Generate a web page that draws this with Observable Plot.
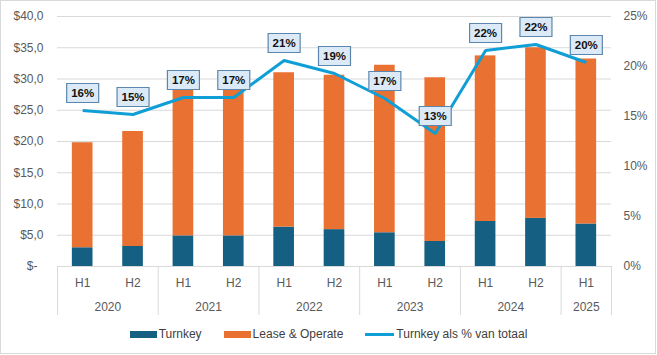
<!DOCTYPE html>
<html><head><meta charset="utf-8">
<script src="https://cdn.jsdelivr.net/npm/d3@7"></script>
<script src="https://cdn.jsdelivr.net/npm/@observablehq/plot@0.6"></script>
<style>
body{margin:0;background:#fff;font-family:"Liberation Sans",Arial,sans-serif;}
#chart{position:absolute;left:0;top:0;}
#legend{position:absolute;left:0;top:320px;width:657px;height:28px;display:flex;justify-content:center;align-items:center;gap:22px;font-size:12px;color:#404040;}
.item{display:flex;align-items:center;gap:2px;white-space:nowrap}
.sw{width:27px;height:7px}
.ln{width:29px;height:3px}
#frame{position:absolute;left:0;top:0;width:656px;height:354px;box-sizing:border-box;border:1px solid #d9d9d9;pointer-events:none;}
</style></head>
<body>
<div id="chart"></div><div id="legend"></div><div id="frame"></div>
<script>
// ---- data ----
const halves  = ["H1","H2","H1","H2","H1","H2","H1","H2","H1","H2","H1"];
const years   = ["2020","2020","2021","2021","2022","2022","2023","2023","2024","2024","2025"];
const turnkey = [3.0, 3.2, 4.9, 4.9, 6.3, 5.9, 5.4, 4.0, 7.2, 7.7, 6.8];
const lease   = [16.8, 18.4, 23.7, 23.7, 24.7, 24.7, 26.8, 26.2, 26.5, 27.3, 26.4];
const pct     = [15.6, 15.2, 16.9, 16.9, 20.6, 19.3, 16.8, 13.3, 21.6, 22.2, 20.4];
const leftTicks  = [0, 5, 10, 15, 20, 25, 30, 35, 40];
const rightTicks = [0, 5, 10, 15, 20, 25];
const seriesNames = ["Turnkey", "Lease & Operate", "Turnkey als % van totaal"];
const colors = ["#156082", "#E97132", "#0F9ED5"];

// ---- derived tables ----
const n = halves.length;
const k = 40 / 25; // right-axis (%) to left-axis ($) factor
const rows = halves.map((h, i) => ({i, half: h, year: years[i], turnkey: turnkey[i], lease: lease[i], pct: pct[i]}));
const stacked = rows.flatMap(r => [
  {i: r.i, series: seriesNames[0], y1: 0, y2: r.turnkey},
  {i: r.i, series: seriesNames[1], y1: r.turnkey, y2: r.turnkey + r.lease}
]);
const groups = [];
years.forEach((y, i) => {
  if (i === 0 || y !== years[i - 1]) groups.push({year: y, start: i, end: i + 1});
  else groups[groups.length - 1].end = i + 1;
});
const bounds = groups.map(g => g.start).concat([n]);

const half = 0.205; // half bar width in band units
const boxSymbol = {draw(ctx) { ctx.rect(-16, -9.5, 32, 19); }};
const grey = "#595959";

const chart = Plot.plot({
  width: 657, height: 320,
  marginTop: 16, marginBottom: 54, marginLeft: 57, marginRight: 46,
  style: {fontFamily: "'Liberation Sans', Arial, sans-serif", fontSize: "12px", background: "transparent"},
  x: {type: "linear", domain: [0, n], axis: null},
  y: {domain: [0, 40]},
  color: {domain: seriesNames.slice(0, 2), range: colors.slice(0, 2)},
  marks: [
    Plot.ruleY(leftTicks, {y: d => d, stroke: "#d9d9d9", strokeWidth: 1}),
    Plot.ruleX(bounds, {x: d => d, y1: 0, y2: 0, insetBottom: -49, stroke: "#d9d9d9", strokeWidth: 1}),
    Plot.axisY(leftTicks, {anchor: "left", tickSize: 0, tickPadding: 14, label: null, color: grey, fontSize: 12,
      tickFormat: d => d === 0 ? "$-\u2002" : "$" + d.toFixed(1).replace(".", ",")}),
    Plot.axisY(rightTicks.map(t => t * k), {anchor: "right", tickSize: 0, tickPadding: 12, label: null, color: grey, fontSize: 12,
      tickFormat: d => Math.round(d / k) + "%"}),
    Plot.rectY(stacked, {x1: d => d.i + 0.5 - half, x2: d => d.i + 0.5 + half, y1: "y1", y2: "y2", fill: "series"}),
    Plot.text(rows, {x: d => d.i + 0.5, text: "half", frameAnchor: "bottom", lineAnchor: "middle", dy: 17, fill: grey, fontSize: 12}),
    Plot.text(groups, {x: d => (d.start + d.end) / 2, text: "year", frameAnchor: "bottom", lineAnchor: "middle", dy: 41, fill: grey, fontSize: 12}),
    Plot.line(rows, {x: d => d.i + 0.5, y: d => d.pct * k, stroke: colors[2], strokeWidth: 3, strokeLinejoin: "miter", strokeLinecap: "butt"}),
    Plot.dot(rows, {x: d => d.i + 0.5, y: d => d.pct * k, symbol: boxSymbol, fill: "#DCEAF7", stroke: "#5B87AE", strokeWidth: 1.2, dy: -17.5}),
    Plot.text(rows, {x: d => d.i + 0.5, y: d => d.pct * k, text: d => Math.round(d.pct) + "%", dy: -17.5, fontWeight: "bold", fontSize: 11.5, fill: "#111"})
  ]
});
document.getElementById("chart").appendChild(chart);

const legend = document.getElementById("legend");
seriesNames.forEach((name, i) => {
  const item = document.createElement("div");
  item.className = "item";
  const sw = document.createElement("span");
  sw.className = i < 2 ? "sw" : "ln";
  sw.style.background = colors[i];
  const t = document.createElement("span");
  t.textContent = name;
  item.appendChild(sw); item.appendChild(t);
  legend.appendChild(item);
});
</script>
</body></html>
